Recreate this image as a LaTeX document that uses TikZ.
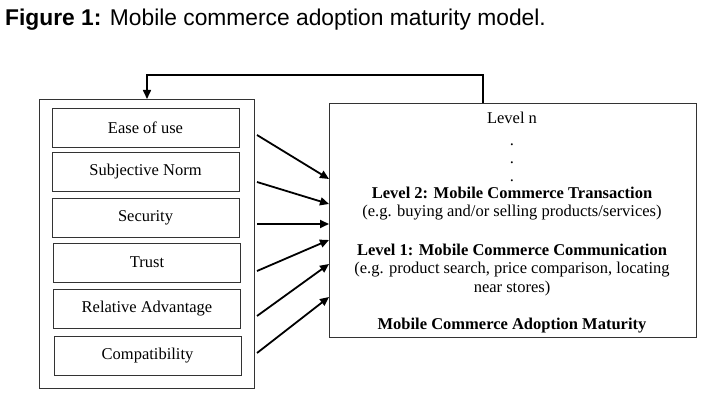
\documentclass[tikz,border=0pt]{standalone}
\usepackage{fontspec}
\setmainfont{Liberation Serif}
\newfontfamily\arial{Liberation Sans}
\usetikzlibrary{arrows.meta}
\begin{document}
\begin{tikzpicture}[x=1pt,y=-1pt,
  fbox/.style={draw=black!80,line width=0.9pt,minimum width=187pt,minimum height=39pt,inner sep=0pt,font=\fontsize{16.5}{18}\selectfont},
  outer/.style={draw=black!80,line width=0.9pt},
  arr/.style={line width=1.8pt,-{Triangle[length=9pt,width=8pt]}},
  lv/.style={font=\fontsize{16.5}{19}\selectfont,align=center,inner sep=0pt}]
\useasboundingbox (0,0) rectangle (728,419);
\node[anchor=west,inner sep=0pt,font=\arial\fontsize{22.8}{26}\selectfont] (title) at (5,20) {\textbf{Figure 1:} Mobile commerce adoption maturity model.};
\draw[outer] (39,99) rectangle (254,388);
\coordinate (otop) at (147,99);
\node[fbox] (b1) at (145.5,127.5) {Ease of use};
\node[fbox] (b2) at (145.5,172) {Subjective Norm};
\node[fbox] (b3) at (145.5,217.5) {Security};
\node[fbox] (b4) at (147,262.5) {Trust};
\node[fbox] (b5) at (147,308.5) {Relative Advantage};
\node[fbox] (b6) at (147.5,356) {Compatibility};
\node[draw=black!80,line width=0.9pt,minimum width=367pt,minimum height=234pt,inner sep=0pt] (R) at (512.5,220) {};
\coordinate (rtop) at (483,103);
\draw[line width=1.6pt,-{Triangle[length=9pt,width=8pt]}] (rtop) -- (483,75) -- (147,75) -- (otop);
\coordinate (t1) at (257,135); \coordinate (h1) at (329,179);
\coordinate (t2) at (257,182); \coordinate (h2) at (329,204);
\coordinate (t3) at (257,224); \coordinate (h3) at (329,224);
\coordinate (t4) at (257,271); \coordinate (h4) at (329,240);
\coordinate (t5) at (257,316); \coordinate (h5) at (329,264);
\coordinate (t6) at (257,353); \coordinate (h6) at (329,297);
\foreach \i in {1,...,6} \draw[arr] (t\i) -- (h\i);
\node[lv] (ln) at (512,118) {Level n};
\node[lv] (d1) at (512,145) {.};
\node[lv] (d2) at (512,163) {.};
\node[lv] (d3) at (512,181) {.};
\node[lv] (l2) at (512,193) {\textbf{Level 2: Mobile Commerce Transaction}};
\node[lv] (l2e) at (512,213) {(e.g. buying and/or selling products/services)};
\node[lv] (l1) at (512,250) {\textbf{Level 1: Mobile Commerce Communication}};
\node[lv] (l1e) at (512,279) {(e.g. product search, price comparison, locating\\near stores)};
\node[lv] (m) at (512,326) {\textbf{Mobile Commerce Adoption Maturity}};
\end{tikzpicture}
\end{document}
